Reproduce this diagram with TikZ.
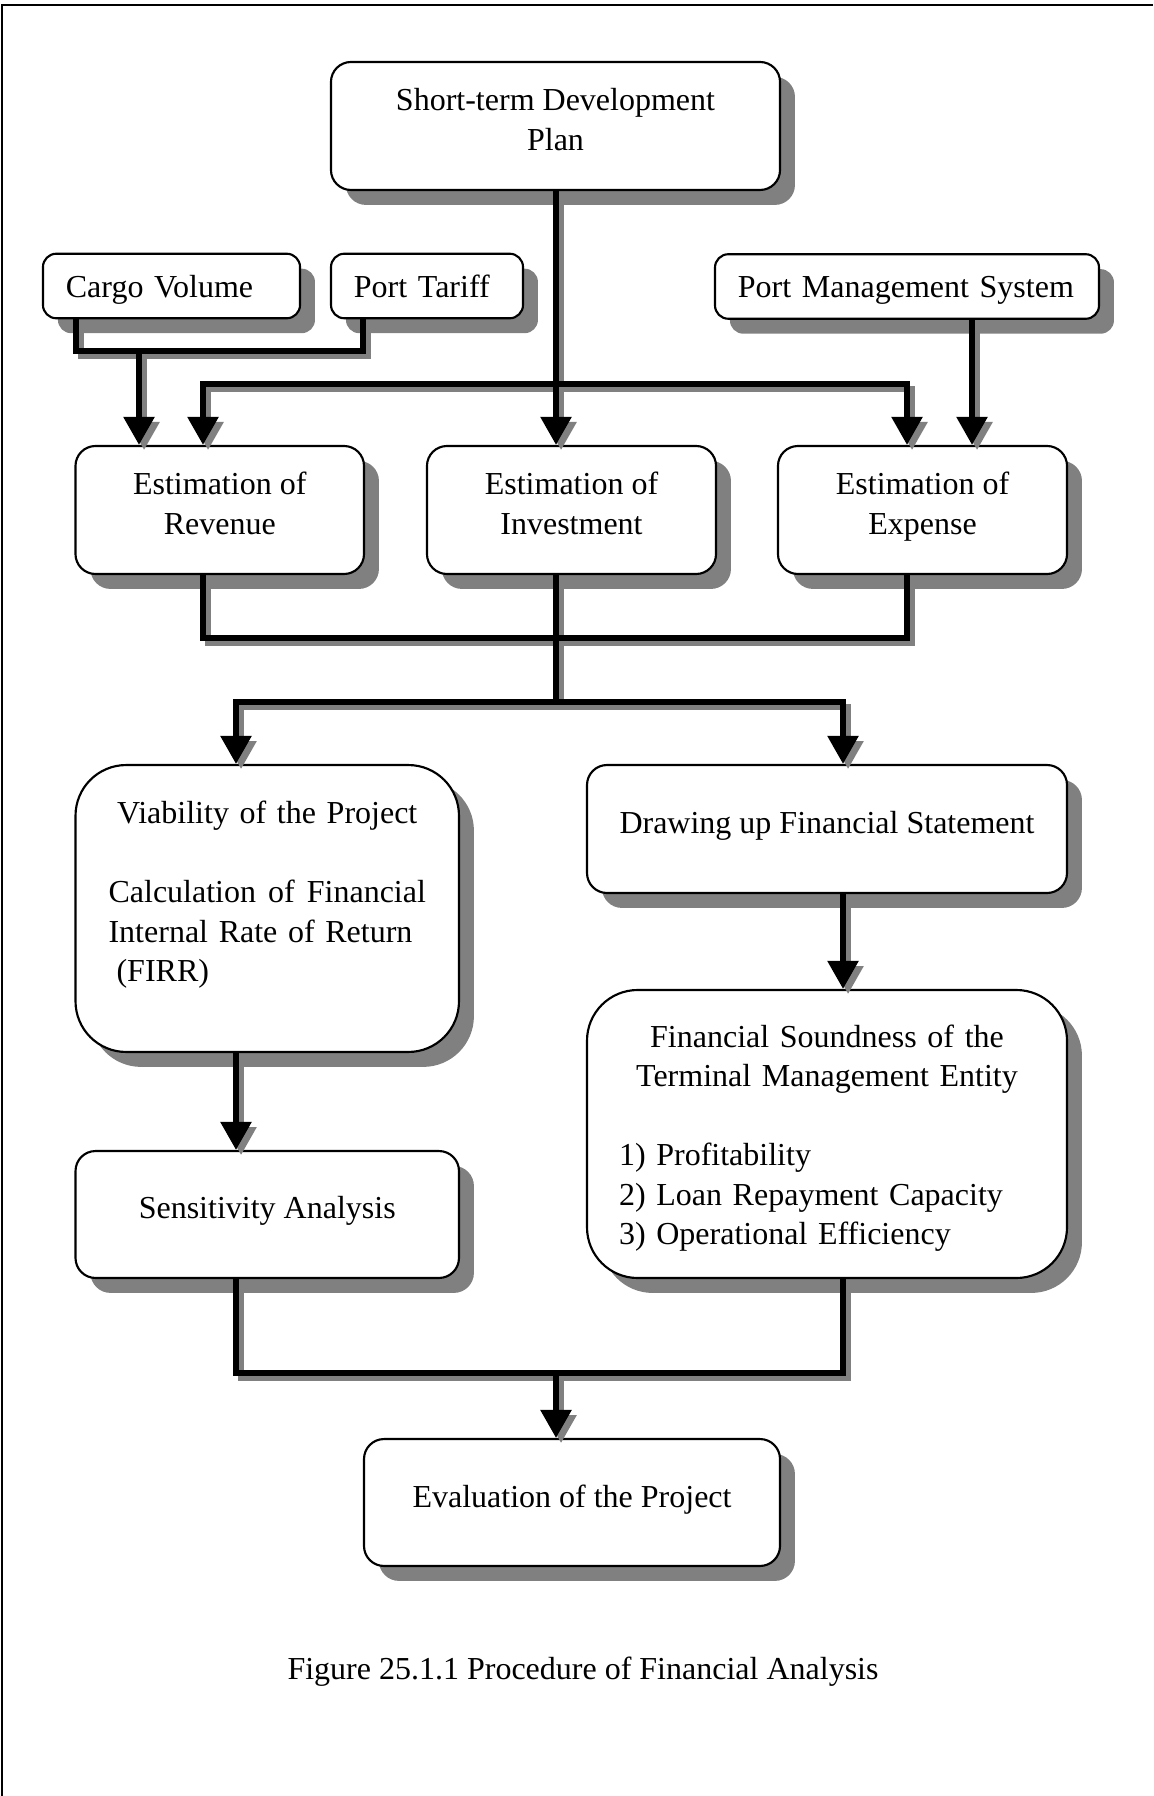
\documentclass[tikz,border=0pt]{standalone}
\usepackage{fontspec}
\setmainfont{Liberation Serif}
\usepackage{tikz}
\usetikzlibrary{arrows.meta, shadows}
\definecolor{shgray}{RGB}{128,128,128}
\setlength{\parindent}{0pt}

\tikzset{
    box/.style={draw, line width=0.8pt, fill=white, rounded corners=7.5pt,
        font=\fontsize{12}{14.8}\selectfont, align=center, inner sep=0pt,
        drop shadow={shadow xshift=5.6pt, shadow yshift=-5.6pt, fill=shgray, opacity=1}},
    inbox/.style={box, rounded corners=5pt, align=left, inner xsep=8.6pt, minimum height=24.2pt,
        text height=8.4pt, text depth=0pt},
    midbox/.style={box, text depth=5pt},
    bigbox/.style={box, rounded corners=19pt, align=left},
    flow/.style={line width=2.2pt},
    flowarr/.style={flow, -{Triangle[width=11.2pt, length=10.5pt]}},
    flowshadow/.style={shgray, transform canvas={xshift=1.9pt, yshift=-1.9pt}},
}

\begin{document}
\begin{tikzpicture}[x=0.375pt, y=-0.375pt]
    \useasboundingbox (0,0) rectangle (1153,1796);
    \draw[line width=0.75pt] (2,1796) -- (2,5) -- (1153,5);

    % inputs
    \node[midbox, minimum width=168.4pt, minimum height=48pt] (plan) at (555.5,126) {Short-term Development\\Plan};
    \node[inbox, text width=79.2pt] (cargo) at (171.5,286) {Cargo Volume};
    \node[inbox, text width=54.8pt] (tariff) at (427,286) {Port Tariff};
    \node[inbox, text width=126.8pt] (pms) at (907,286.5) {Port Management System};

    % estimations
    \node[midbox, minimum width=108.2pt, minimum height=48pt] (rev) at (219.75,510) {Estimation of\\Revenue};
    \node[midbox, minimum width=108.4pt, minimum height=48pt] (inv) at (571.5,510) {Estimation of\\Investment};
    \node[midbox, minimum width=108.4pt, minimum height=48pt] (exp) at (922.5,510) {Estimation of\\Expense};

    % analysis
    \node[bigbox, minimum width=143.8pt, minimum height=107.6pt, text width=119pt, text depth=72pt] (viab) at (267.25,908.5)
        {{\centering Viability of the Project\par}\vspace{14.8pt}Calculation\hfill of\hfill Financial\\Internal Rate of Return\\\hspace*{3pt}(FIRR)};
    \node[midbox, minimum width=180pt, minimum height=48pt] (stmt) at (827,829) {Drawing up Financial Statement};
    \node[bigbox, minimum width=180pt, minimum height=108pt, text width=156pt, text height=11.7pt] (sound) at (827,1134)
        {{\centering Financial Soundness of the\\Terminal Management Entity\par}\vspace{14.8pt}1) Profitability\\2) Loan Repayment Capacity\\3) Operational Efficiency};
    \node[midbox, minimum width=143.8pt, minimum height=47.6pt] (sens) at (267.25,1214.5) {Sensitivity Analysis};
    \node[midbox, minimum width=156pt, minimum height=47.6pt] (eval) at (572,1502.5) {Evaluation of the Project};

    \node[font=\fontsize{12}{14.8}\selectfont, inner sep=0pt] (caption) at (583,1672) {Figure 25.1.1 Procedure of Financial Analysis};

    % junctions
    \coordinate (jin) at (139,351);
    \coordinate (jdist) at (556,384);
    \coordinate (jsum) at (556,638);
    \coordinate (jsplit) at (556,702);
    \coordinate (jend) at (556,1373);
    \coordinate (xa) at (76,0);
    \coordinate (xd) at (363,0);
    \coordinate (xc) at (203,0);
    \coordinate (xe) at (907,0);
    \coordinate (xf) at (972,0);
    \coordinate (xl) at (236,0);
    \coordinate (xr) at (843,0);

    \foreach \sty in {flowshadow, black} {
        \draw[flow, \sty] (cargo.south -| xa) |- (jin) -| (tariff.south -| xd);
        \draw[flowarr, \sty] (jin) -- (rev.north -| jin);
        \draw[flowarr, \sty] (plan.south -| jdist) -- (inv.north -| jdist);
        \draw[flowarr, \sty] (jdist) -| (rev.north -| xc);
        \draw[flowarr, \sty] (jdist) -| (exp.north -| xe);
        \draw[flowarr, \sty] (pms.south -| xf) -- (exp.north -| xf);
        \draw[flow, \sty] (rev.south -| xc) |- (jsum) -| (exp.south -| xe);
        \draw[flow, \sty] (inv.south -| jsum) -- (jsplit);
        \draw[flowarr, \sty] (jsplit) -| (viab.north -| xl);
        \draw[flowarr, \sty] (jsplit) -| (stmt.north -| xr);
        \draw[flowarr, \sty] (viab.south -| xl) -- (sens.north -| xl);
        \draw[flowarr, \sty] (stmt.south -| xr) -- (sound.north -| xr);
        \draw[flow, \sty] (sens.south -| xl) |- (jend) -| (sound.south -| xr);
        \draw[flowarr, \sty] (jend) -- (eval.north -| jend);
    }
\end{tikzpicture}
\end{document}
